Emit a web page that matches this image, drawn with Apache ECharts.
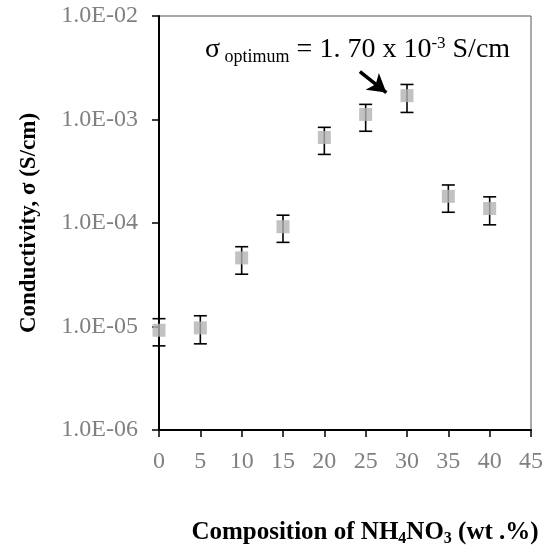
<!DOCTYPE html>
<html>
<head>
<meta charset="utf-8">
<script src="https://cdn.jsdelivr.net/npm/echarts@6/dist/echarts.min.js"></script>
<style>html,body{margin:0;padding:0;background:#fff;}#c{width:549px;height:552px;}</style>
</head>
<body>
<div id="c"></div>
<script>
// ---- data ----
const composition = [0, 5, 10, 15, 20, 25, 30, 35, 40];
const conductivity = [9.2e-6, 9.7e-6, 4.6e-5, 9.2e-5, 6.7e-4, 1.12e-3, 1.70e-3, 1.81e-4, 1.38e-4];
const errUpper = [1.19e-5, 1.27e-5, 5.9e-5, 1.19e-4, 8.4e-4, 1.40e-3, 2.18e-3, 2.33e-4, 1.79e-4];
const errLower = [6.5e-6, 6.8e-6, 3.2e-5, 6.5e-5, 4.6e-4, 7.7e-4, 1.17e-3, 1.27e-4, 9.6e-5];
const xTicks = [0, 5, 10, 15, 20, 25, 30, 35, 40, 45];
const yTickLabels = {'-6': '1.0E-06', '-5': '1.0E-05', '-4': '1.0E-04', '-3': '1.0E-03', '-2': '1.0E-02'};
const arrowFrom = [24.3, 2.9e-3];
const arrowTo = [27.5, 1.82e-3];

const serif = '"Liberation Serif", "DejaVu Serif", serif';
const chart = echarts.init(document.getElementById('c'));

const points = composition.map((x, i) => [x, conductivity[i]]);
const bars = composition.map((x, i) => [x, errLower[i], errUpper[i]]);

chart.setOption({
  animation: false,
  backgroundColor: '#fff',
  grid: {left: 159, right: 18, top: 16, bottom: 120, show: true, borderColor: '#555', borderWidth: 1},
  xAxis: {
    type: 'value', min: 0, max: 45, interval: 5,
    axisLine: {lineStyle: {color: '#000', width: 2}},
    axisTick: {show: true, length: 7, lineStyle: {color: '#000', width: 1.5}},
    axisLabel: {color: '#808080', fontFamily: serif, fontSize: 24, margin: 20},
    splitLine: {show: false},
    name: '{a|Composition of NH}{s|4}{a|NO}{s|3}{a| (wt .%)}',
    nameLocation: 'middle', nameGap: 89,
    nameTextStyle: {
      padding: [0, 0, 0, 40],
      rich: {
        a: {fontFamily: serif, fontWeight: 'bold', fontSize: 25, color: '#000', lineHeight: 28},
        s: {fontFamily: serif, fontWeight: 'bold', fontSize: 16, color: '#000', padding: [12, 0, 0, 0]}
      }
    }
  },
  yAxis: {
    type: 'log', logBase: 10, min: 1e-6, max: 1e-2, interval: 1,
    axisLine: {show: true, lineStyle: {color: '#000', width: 2}},
    axisTick: {show: true, length: 7, lineStyle: {color: '#000', width: 1.5}},
    axisLabel: {
      color: '#808080', fontFamily: serif, fontSize: 24, margin: 21,
      formatter: v => yTickLabels[String(Math.round(Math.log10(v)))] || ''
    },
    splitLine: {show: false},
    minorTick: {show: false},
    name: 'Conductivity, σ (S/cm)',
    nameLocation: 'middle', nameGap: 118,
    nameTextStyle: {fontFamily: serif, fontWeight: 'bold', fontSize: 23, color: '#000'}
  },
  series: [
    {
      type: 'custom',
      data: bars,
      z: 2,
      renderItem: (params, api) => {
        const lo = api.coord([api.value(0), api.value(1)]);
        const hi = api.coord([api.value(0), api.value(2)]);
        const w = 6.5;
        const st = {stroke: '#000', lineWidth: 1.6};
        return {
          type: 'group',
          children: [
            {type: 'line', shape: {x1: lo[0], y1: lo[1], x2: hi[0], y2: hi[1]}, style: st},
            {type: 'line', shape: {x1: lo[0] - w, y1: lo[1], x2: lo[0] + w, y2: lo[1]}, style: st},
            {type: 'line', shape: {x1: hi[0] - w, y1: hi[1], x2: hi[0] + w, y2: hi[1]}, style: st}
          ]
        };
      }
    },
    {
      type: 'scatter',
      data: points,
      symbol: 'rect',
      symbolSize: 13,
      z: 3,
      itemStyle: {color: '#b3b3b3'},
      markLine: {
        silent: true,
        symbol: ['none', 'arrow'],
        symbolSize: [16, 18],
        label: {show: false},
        lineStyle: {color: '#000', width: 3.5, type: 'solid'},
        data: [[{coord: arrowFrom}, {coord: arrowTo}]]
      }
    }
  ],
  graphic: [
    {
      type: 'text', left: 205, top: 35, z: 10,
      style: {
        text: '{a|σ}{b| optimum}{a| = 1. 70 x 10}{c|-3}{a| S/cm}',
        rich: {
          a: {fontFamily: serif, fontSize: 28, fill: '#000', lineHeight: 32},
          b: {fontFamily: serif, fontSize: 18, fill: '#000', padding: [15, 0, 0, 0]},
          c: {fontFamily: serif, fontSize: 17, fill: '#000', padding: [0, 0, 13, 0]}
        }
      }
    }
  ]
});
</script>
</body>
</html>
